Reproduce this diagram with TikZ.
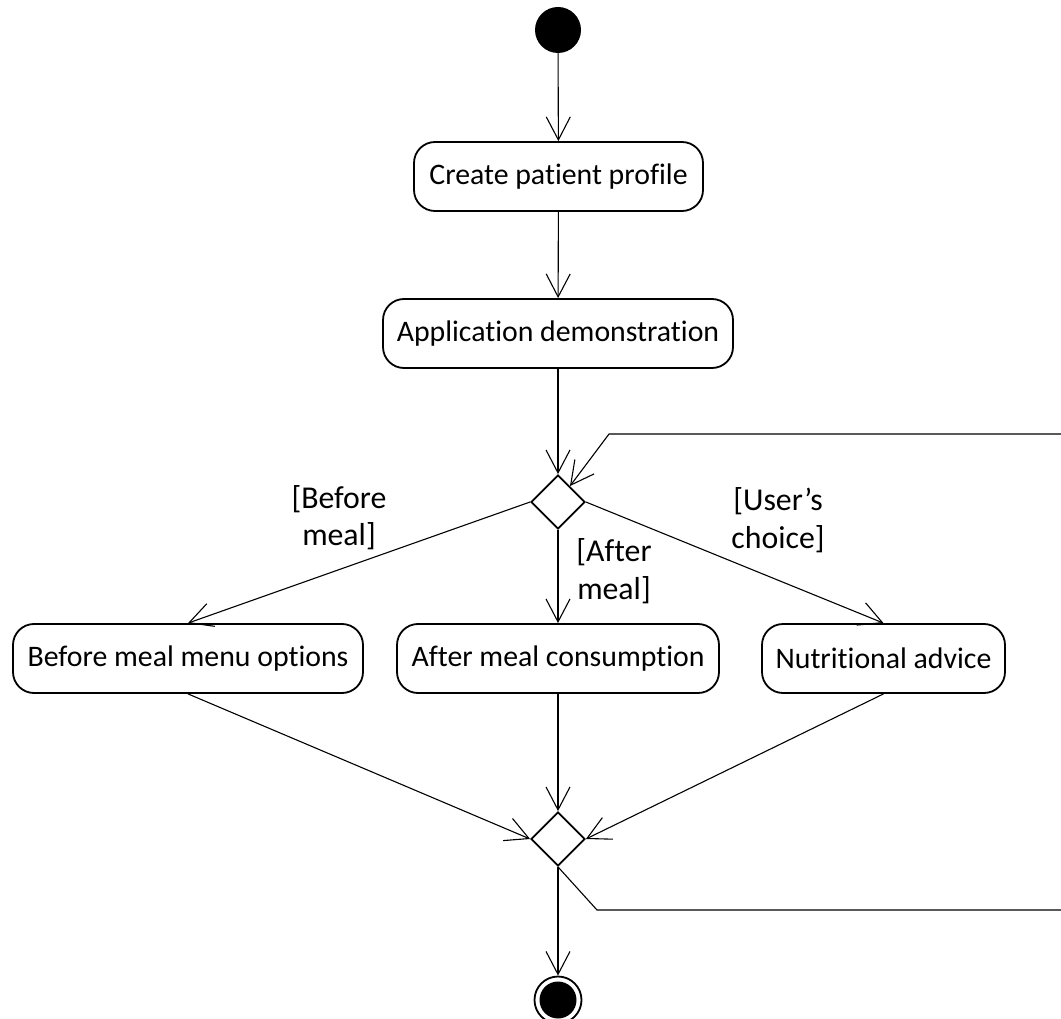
\documentclass[tikz,border=0pt]{standalone}
\usepackage{fontspec}
\setmainfont{Carlito}[Ligatures={NoCommon}]
\usetikzlibrary{arrows.meta,shapes.geometric}
\begin{document}
\begin{tikzpicture}[x=1pt,y=-1pt,
  act/.style={draw, line width=1.8pt, rounded corners=21pt, minimum height=69pt, inner sep=0pt,
    font=\fontsize{29.8}{35}\selectfont},
  dec/.style={draw, diamond, aspect=1, line width=1.8pt, minimum width=54pt, minimum height=54pt, inner sep=0pt},
  guard/.style={align=center, inner sep=0pt, font=\fontsize{31.8}{37.5}\selectfont},
  flow/.style={line width=1.1pt, -{Straight Barb[length=23pt,width=24pt,line width=1.1pt]}},
  plain/.style={line width=1.1pt}]
\useasboundingbox (0,0) rectangle (1061,1019);
\node[circle, fill=black, minimum size=46pt, inner sep=0pt] (start) at (558,30) {};
\node[act, minimum width=289pt] (create) at (558.5,176.5) {Create patient profile};
\node[act, minimum width=350pt] (app) at (558,333.5) {Application demonstration};
\node[dec] (d1) at (558,502) {};
\node[act, minimum width=350pt] (before) at (188,658.5) {Before meal menu options};
\node[act, minimum width=322pt] (after) at (558,658.5) {After meal consumption};
\node[act, minimum width=243pt] (nutr) at (883.5,658.5) {Nutritional advice};
\node[dec] (d2) at (558,839) {};
\node[circle, draw, line width=1.8pt, minimum size=47pt, inner sep=0pt,
  path picture={\fill[black] (path picture bounding box.center) circle (18.5pt);}] (end) at (558,1000) {};
\node[guard] (gbefore) at (339,517.5) {[Before\\meal]};
\node[guard] (gafter) at (614,571) {[After\\meal]};
\node[guard] (guser) at (778,520) {[User’s\\choice]};
\coordinate (l1) at (597,910);
\coordinate (l2) at (1080,910);
\coordinate (l3) at (1080,434);
\coordinate (l4) at (609,434);
\draw[flow] (start) -- (create);
\draw[flow] (create) -- (app);
\draw[flow] (app) -- (d1.north);
\draw[flow] (d1.west) -- (before.north);
\draw[flow] (d1.south) -- (after.north);
\draw[flow] (d1.east) -- (nutr.north);
\draw[flow] (before.south) -- (d2.west);
\draw[flow] (after.south) -- (d2.north);
\draw[flow] (nutr.south) -- (d2.east);
\draw[flow] (d2.south) -- (end);
\draw[flow] (d2.south) -- (l1) -- (l2) -- (l3) -- (l4) -- (d1);
\end{tikzpicture}
\end{document}
